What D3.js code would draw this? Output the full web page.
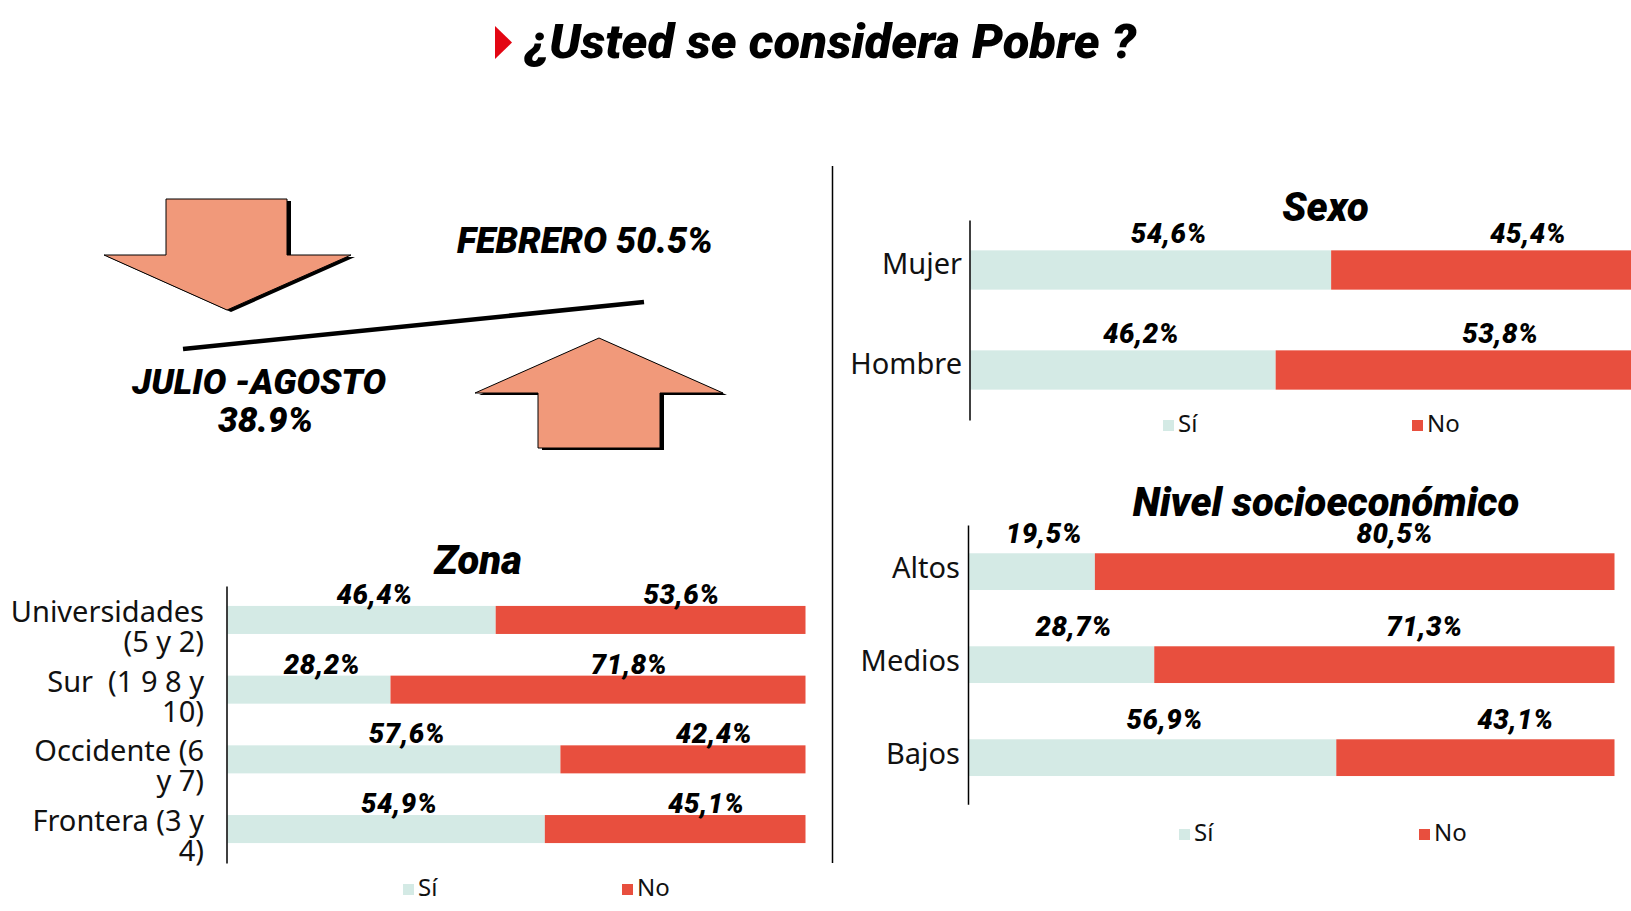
<!DOCTYPE html>
<html><head><meta charset="utf-8">
<script src="https://cdn.jsdelivr.net/npm/d3@7"></script>
<style>
html,body{margin:0;padding:0;background:#fff;}
svg{display:block;}
</style></head>
<body>
<svg id="chart" width="1631" height="911"></svg>
<script>
// ---------------- DATA ----------------
const mainTitle = "¿Usted se considera Pobre ?";
const trendTexts = ["FEBRERO 50.5%", "JULIO -AGOSTO", "38.9%"];
const seriesNames = ["Sí", "No"];

const zonaTitle = "Zona";
const zonaCats = [["Universidades", "(5 y 2)"], ["Sur  (1 9 8 y", "10)"], ["Occidente (6", "y 7)"], ["Frontera (3 y", "4)"]];
const zonaSi = [46.4, 28.2, 57.6, 54.9];
const zonaNo = [53.6, 71.8, 42.4, 45.1];

const sexoTitle = "Sexo";
const sexoCats = [["Mujer"], ["Hombre"]];
const sexoSi = [54.6, 46.2];
const sexoNo = [45.4, 53.8];

const nivelTitle = "Nivel socioeconómico";
const nivelCats = [["Altos"], ["Medios"], ["Bajos"]];
const nivelSi = [19.5, 28.7, 56.9];
const nivelNo = [80.5, 71.3, 43.1];

// ---------------- STYLE ----------------
const COL_SI = "#D4EAE5", COL_NO = "#E84F3E", COL_ARROW = "#F1997A", COL_RED = "#E30613";
const BOLD = "Roboto, 'Liberation Sans', sans-serif";
const REG = "'Noto Sans', 'DejaVu Sans', sans-serif";
const locale = d3.formatLocale({decimal: ",", thousands: ".", grouping: [3], currency: ["", ""]});
const fmt = v => locale.format(".1f")(v) + "%";

const svg = d3.select("#chart");

// ---------------- HEADER ----------------
svg.append("path").attr("d", "M495,26 L512,42.5 L495,59 Z").attr("fill", COL_RED);
svg.append("text").attr("x", 525).attr("y", 58)
  .attr("font-family", BOLD).attr("font-weight", 900).attr("font-style", "italic")
  .attr("font-size", 48).attr("textLength", 611).attr("lengthAdjust", "spacingAndGlyphs")
  .text(mainTitle);

// separator
svg.append("line").attr("x1", 832.5).attr("x2", 832.5).attr("y1", 166).attr("y2", 863)
  .attr("stroke", "#000").attr("stroke-width", 1.5);

// ---------------- ARROWS PANEL ----------------
const downArrow = "M166,199 L287,199 L287,255 L351,255 L227,310 L104,255 L166,255 Z";
const upArrow = "M599,338 L723,393 L660,393 L660,448 L538,448 L538,393 L475,393 Z";
[downArrow, upArrow].forEach(d => {
  svg.append("path").attr("d", d).attr("fill", "#000").attr("transform", "translate(4,2)");
  svg.append("path").attr("d", d).attr("fill", COL_ARROW).attr("stroke", "#000").attr("stroke-width", 1);
});
svg.append("line").attr("x1", 183).attr("y1", 349).attr("x2", 644).attr("y2", 302)
  .attr("stroke", "#000").attr("stroke-width", 4.5);

const trendPos = [{x: 457, y: 253, w: 256, fs: 36}, {x: 132, y: 394, w: 254, fs: 35}, {x: 218, y: 432, w: 95, fs: 35}];
trendTexts.forEach((t, i) => {
  const p = trendPos[i];
  svg.append("text").attr("x", p.x).attr("y", p.y)
    .attr("font-family", BOLD).attr("font-weight", 900).attr("font-style", "italic")
    .attr("font-size", p.fs).attr("textLength", p.w).attr("lengthAdjust", "spacingAndGlyphs")
    .text(t);
});

// ---------------- STACKED BAR CHARTS ----------------
function stackedChart(cfg) {
  const g = svg.append("g");
  const keys = cfg.cats.map(c => c.join(" "));
  const x = d3.scaleLinear().domain([0, 100]).range([cfg.x0, cfg.x1]);
  const y = d3.scaleBand().domain(keys).range([cfg.yTop, cfg.yBot])
    .paddingInner(cfg.padIn).paddingOuter(cfg.padOut);

  // title
  g.append("text").attr("x", cfg.titleX).attr("y", cfg.titleY).attr("text-anchor", "middle")
    .attr("font-family", BOLD).attr("font-weight", 900).attr("font-style", "italic")
    .attr("font-size", 40).text(cfg.title);

  const rows = keys.map((k, i) => ({key: k, lines: cfg.cats[i], si: cfg.si[i], no: cfg.no[i]}));

  rows.forEach(r => {
    g.append("rect").attr("x", x(0)).attr("y", y(r.key)).attr("width", x(r.si) - x(0))
      .attr("height", y.bandwidth()).attr("fill", COL_SI);
    g.append("rect").attr("x", x(r.si)).attr("y", y(r.key)).attr("width", x(r.si + r.no) - x(r.si))
      .attr("height", y.bandwidth()).attr("fill", COL_NO);
    // value labels
    const segs = [[0, r.si, cfg.offSi], [r.si, r.si + r.no, cfg.offNo]];
    [r.si, r.no].forEach((v, j) => {
      const s = segs[j];
      g.append("text").attr("x", (x(s[0]) + x(s[1])) / 2 + s[2]).attr("y", y(r.key) + cfg.labelDy)
        .attr("text-anchor", "middle").attr("font-family", BOLD).attr("font-weight", 900)
        .attr("font-style", "italic").attr("font-size", 27.5).attr("letter-spacing", 0.6)
        .text(fmt(v));
    });
    // category labels
    const t = g.append("text").attr("text-anchor", "end").attr("font-family", REG)
      .attr("font-size", 29).attr("fill", "#111").style("white-space", "pre");
    r.lines.forEach((ln, li) => {
      t.append("tspan").attr("x", cfg.catX)
        .attr("y", y(r.key) + y.bandwidth() / 2 + cfg.catDy + li * 30).text(ln);
    });
  });

  // axis line
  const axis = d3.axisLeft(y).tickSize(0).tickSizeOuter(0).tickFormat("");
  const ag = g.append("g").attr("transform", `translate(${cfg.x0 - 1},0)`).call(axis);
  ag.select(".domain").attr("stroke", "#000").attr("stroke-width", 1.5);

  // legend
  const legCols = [COL_SI, COL_NO];
  seriesNames.forEach((n, i) => {
    const lx = cfg.legX[i];
    g.append("rect").attr("x", lx).attr("y", cfg.legY - 12).attr("width", 11).attr("height", 11)
      .attr("fill", legCols[i]);
    g.append("text").attr("x", lx + 15).attr("y", cfg.legY).attr("font-family", REG)
      .attr("font-size", 24).attr("fill", "#111").text(n);
  });
}

stackedChart({
  title: zonaTitle, cats: zonaCats, si: zonaSi, no: zonaNo,
  x0: 227.5, x1: 805.5, yTop: 586, yBot: 863, padIn: 0.598, padOut: 0.286,
  titleX: 478, titleY: 574, offSi: 13, offNo: 31, labelDy: -2,
  catX: 204, catDy: 2, legX: [403, 622], legY: 896
});

stackedChart({
  title: sexoTitle, cats: sexoCats, si: sexoSi, no: sexoNo,
  x0: 970.5, x1: 1631, yTop: 220, yBot: 420, padIn: 0.607, padOut: 0.3035,
  titleX: 1325.5, titleY: 221, offSi: 18, offNo: 47, labelDy: -7,
  catX: 962, catDy: 4, legX: [1163, 1412], legY: 432
});

stackedChart({
  title: nivelTitle, cats: nivelCats, si: nivelSi, no: nivelNo,
  x0: 969, x1: 1614.5, yTop: 525, yBot: 804.3, padIn: 0.605, padOut: 0.304,
  titleX: 1326, titleY: 516, offSi: 12, offNo: 40, labelDy: -10,
  catX: 960, catDy: 6, legX: [1179, 1419], legY: 841
});
</script>
</body></html>
